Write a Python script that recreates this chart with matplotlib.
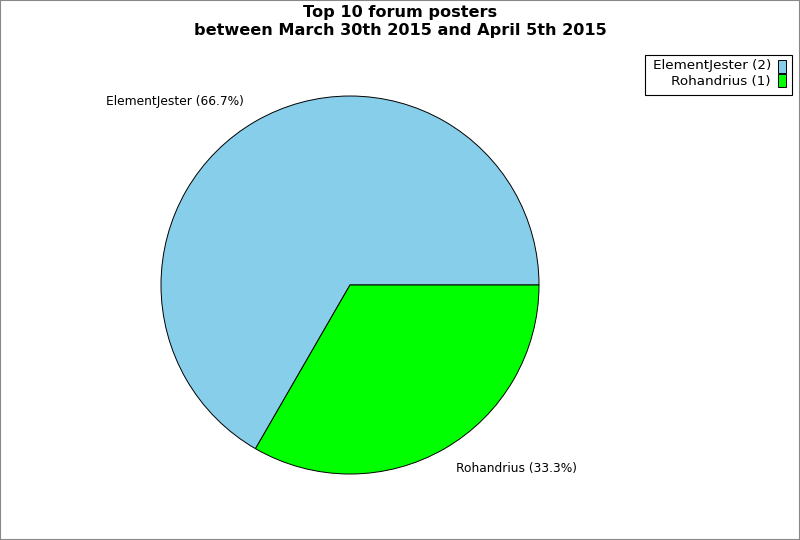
import matplotlib.pyplot as plt
from matplotlib.patches import Rectangle

posters = ['ElementJester', 'Rohandrius']
posts = [2, 1]
colors = ['#87CEEB', '#00FF00']

total = sum(posts)
pie_labels = [f'{n} ({100 * v / total:.1f}%)' for n, v in zip(posters, posts)]
legend_labels = [f'{n} ({v})' for n, v in zip(posters, posts)]

fig = plt.figure(figsize=(8, 5.4), dpi=100)
fig.patch.set_facecolor('white')

# pie area: centre (350, 285), radius 189 px
ax = fig.add_axes([0.20125, 0.1222, 0.4725, 0.7])
ax.pie(posts, labels=pie_labels, colors=colors, startangle=0,
       counterclock=True, labeldistance=1.12,
       wedgeprops={'edgecolor': 'black', 'linewidth': 0.7},
       textprops={'fontsize': 8.8})
ax.set_xlim(-1, 1)
ax.set_ylim(-1, 1)
ax.set_aspect('auto')
ax.axis('off')

fig.text(0.5, 1 - 12 / 540, 'Top 10 forum posters', ha='center', va='center',
         fontsize=11.6, fontweight='bold')
fig.text(0.5, 1 - 30 / 540, 'between March 30th 2015 and April 5th 2015',
         ha='center', va='center', fontsize=11.6, fontweight='bold')

# legend, drawn by hand so the text is right-aligned
W, H = 800, 540
fig.patches.append(Rectangle((645 / W, 1 - 95 / H), 147 / W, 40 / H,
                             transform=fig.transFigure, facecolor='white',
                             edgecolor='black', linewidth=0.8))
for i, (lab, c) in enumerate(zip(legend_labels, colors)):
    y = 66 + i * 15
    fig.text(771 / W, 1 - y / H, lab, ha='right', va='center', fontsize=9.7)
    fig.patches.append(Rectangle((778 / W, 1 - (y + 6.5) / H), 8 / W, 13 / H,
                                 transform=fig.transFigure, facecolor=c,
                                 edgecolor='black', linewidth=0.7))

# grey outer border
fig.patches.append(Rectangle((0, 0), 1, 1, transform=fig.transFigure,
                             fill=False, edgecolor='#888888', linewidth=1.5))

fig.savefig('out.png', dpi=100)
